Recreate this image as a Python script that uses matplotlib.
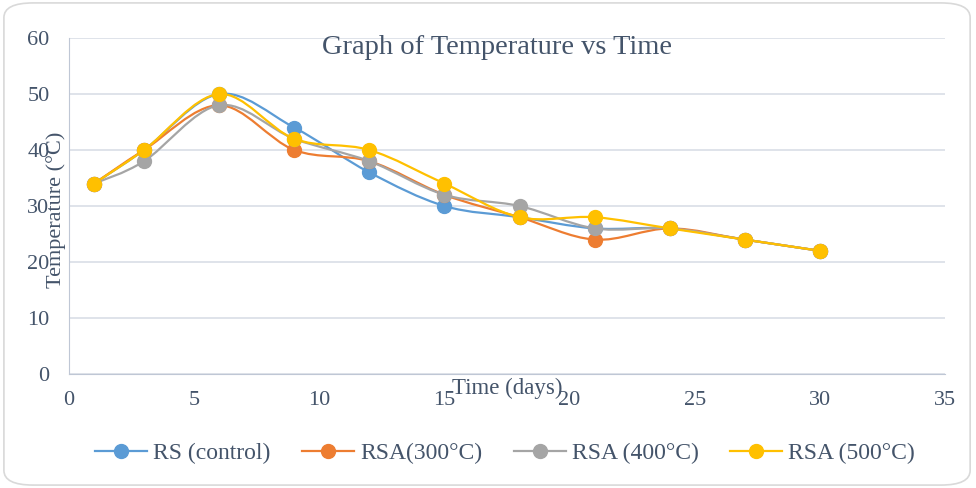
import matplotlib
matplotlib.use("Agg")
import matplotlib.pyplot as plt
from matplotlib.path import Path
from matplotlib.patches import PathPatch, FancyBboxPatch
from matplotlib.lines import Line2D

# datos
days = [1, 3, 6, 9, 12, 15, 18, 21, 24, 27, 30]
rs_control = [34, 40, 50, 44, 36, 30, 28, 26, 26, 24, 22]
rsa_300 = [34, 40, 48, 40, 38, 32, 28, 24, 26, 24, 22]
rsa_400 = [34, 38, 48, 42, 38, 32, 30, 26, 26, 24, 22]
rsa_500 = [34, 40, 50, 42, 40, 34, 28, 28, 26, 24, 22]

series_names = ["RS (control)", "RSA(300°C)", "RSA (400°C)", "RSA (500°C)"]
series_values = [rs_control, rsa_300, rsa_400, rsa_500]
colors = ["#5B9BD5", "#ED7D31", "#A5A5A5", "#FFC000"]

plt.rcParams["font.family"] = ["Liberation Serif", "DejaVu Serif"]
text_color = "#44546A"


def smooth_path(xs, ys):
    # curva suavizada tipo Excel (Catmull-Rom -> Bezier)
    pts = list(zip(xs, ys))
    verts = [pts[0]]
    codes = [Path.MOVETO]
    n = len(pts)
    for i in range(n - 1):
        p0 = pts[i - 1] if i > 0 else pts[i]
        p1 = pts[i]
        p2 = pts[i + 1]
        p3 = pts[i + 2] if i + 2 < n else pts[i + 1]
        c1 = (p1[0] + (p2[0] - p0[0]) / 6, p1[1] + (p2[1] - p0[1]) / 6)
        c2 = (p2[0] - (p3[0] - p1[0]) / 6, p2[1] - (p3[1] - p1[1]) / 6)
        verts += [c1, c2, p2]
        codes += [Path.CURVE4] * 3
    return Path(verts, codes)


fig = plt.figure(figsize=(9.76, 4.88), dpi=100)
ax = fig.add_axes([69 / 976, 1 - 374 / 488, 876 / 976, 336 / 488])

for name, vals, c in zip(series_names, series_values, colors):
    ax.add_patch(PathPatch(smooth_path(days, vals), fill=False, edgecolor=c,
                           lw=1.6, zorder=3))
    ax.plot(days, vals, linestyle="none", marker="o", markersize=10,
            color=c, zorder=4)

ax.set_xlim(0, 35)
ax.set_ylim(0, 60)
ax.set_xticks(range(0, 36, 5))
ax.set_yticks(range(0, 61, 10))
ax.grid(axis="y", color="#D9DEE6", lw=1.2)
ax.set_axisbelow(True)
for s in ["top", "right"]:
    ax.spines[s].set_visible(False)
ax.spines["left"].set_color("#BFC7D5")
ax.spines["bottom"].set_color("#BFC7D5")
ax.tick_params(length=0, labelsize=16, labelcolor=text_color)
ax.tick_params(axis="x", pad=12)
ax.tick_params(axis="y", pad=14)

ax.set_xlabel("Time (days)", fontsize=16.5, color=text_color)
ax.xaxis.set_label_coords(0.5, -0.012)
ax.set_ylabel("Temperature (°C)", fontsize=16, color=text_color)
ax.yaxis.set_label_coords(-0.003, 0.49)

fig.text(497 / 976, 1 - 47 / 488, "Graph of Temperature vs Time",
         fontsize=20.5, color=text_color, ha="center", va="center")

handles = [Line2D([], [], color=c, lw=1.6, marker="o", markersize=10)
           for c in colors]
fig.legend(handles, series_names, loc="center", bbox_to_anchor=(505 / 976, 1 - 453 / 488),
           ncol=4, frameon=False, fontsize=17, handlelength=2.2,
           columnspacing=1.35, handletextpad=0.25, labelcolor=text_color)

fig.patches.append(FancyBboxPatch((0.004, 0.006), 0.99, 0.988,
                                  boxstyle="round,pad=0,rounding_size=0.03",
                                  transform=fig.transFigure, fill=False,
                                  edgecolor="#D9D9D9", lw=1.2))

fig.savefig("out.png", dpi=100)
